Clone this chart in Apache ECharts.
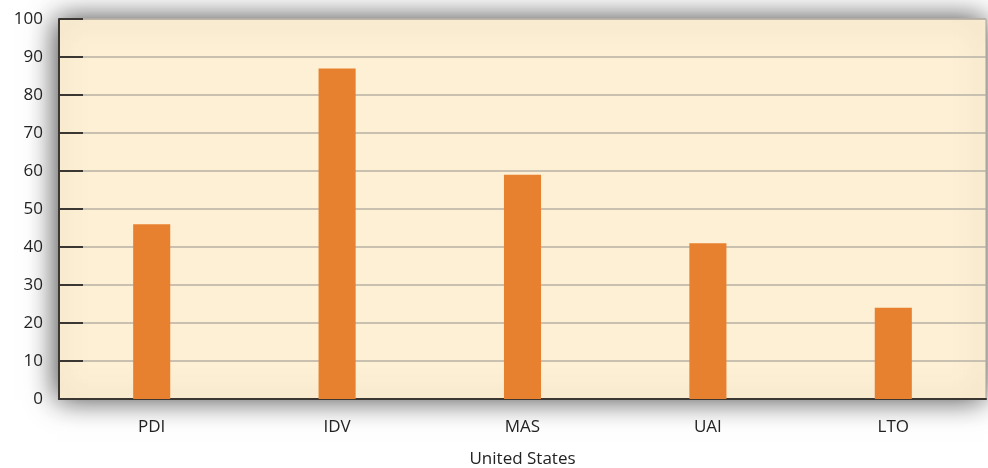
<!DOCTYPE html>
<html>
<head>
<meta charset="utf-8">
<script src="https://cdn.jsdelivr.net/npm/echarts@6/dist/echarts.min.js"></script>
<style>
  html, body { margin: 0; padding: 0; background: #fff; }
  #chart { width: 988px; height: 468px; }
</style>
</head>
<body>
<div id="chart"></div>
<script>
  // dimensions of Hofstede's model
  var categories = ['PDI', 'IDV', 'MAS', 'UAI', 'LTO'];
  var scores = [46, 87, 59, 41, 24];
  var countryName = 'United States';

  var font = '"Open Sans", "Liberation Sans", sans-serif';

  var myChart = echarts.init(document.getElementById('chart'));
  var option = {
    animation: false,
    grid: {
      show: true,
      left: 59,
      right: 2,
      top: 19,
      bottom: 69,
      outerBoundsMode: 'none',
      backgroundColor: '#fdf0d4',
      borderColor: '#a8a29a',
      borderWidth: 1,
      shadowBlur: 28,
      shadowColor: 'rgba(0,0,0,0.75)',
      shadowOffsetX: -2,
      shadowOffsetY: 0
    },
    xAxis: {
      type: 'category',
      data: categories,
      name: countryName,
      nameLocation: 'middle',
      nameGap: 52,
      nameTextStyle: { color: '#222', fontSize: 17, fontFamily: font },
      axisLine: { lineStyle: { color: '#3a3632', width: 2 } },
      axisTick: { inside: true, length: 10, lineStyle: { color: '#3a3632', width: 2 } },
      axisLabel: { color: '#222', fontSize: 17, fontFamily: font, margin: 20 }
    },
    yAxis: {
      type: 'value',
      min: 0,
      max: 100,
      interval: 10,
      axisLine: { show: true, lineStyle: { color: '#3a3632', width: 2 } },
      axisTick: { show: true, inside: true, length: 24, lineStyle: { color: '#3a3632', width: 2 } },
      axisLabel: { color: '#222', fontSize: 17, fontFamily: font, margin: 16 },
      splitLine: { lineStyle: { color: '#b7b0a4', width: 1.5 } }
    },
    series: [
      {
        type: 'bar',
        data: scores,
        barWidth: '20%',
        itemStyle: { color: '#e8812f' }
      }
    ]
  };
  myChart.setOption(option);
</script>
</body>
</html>
